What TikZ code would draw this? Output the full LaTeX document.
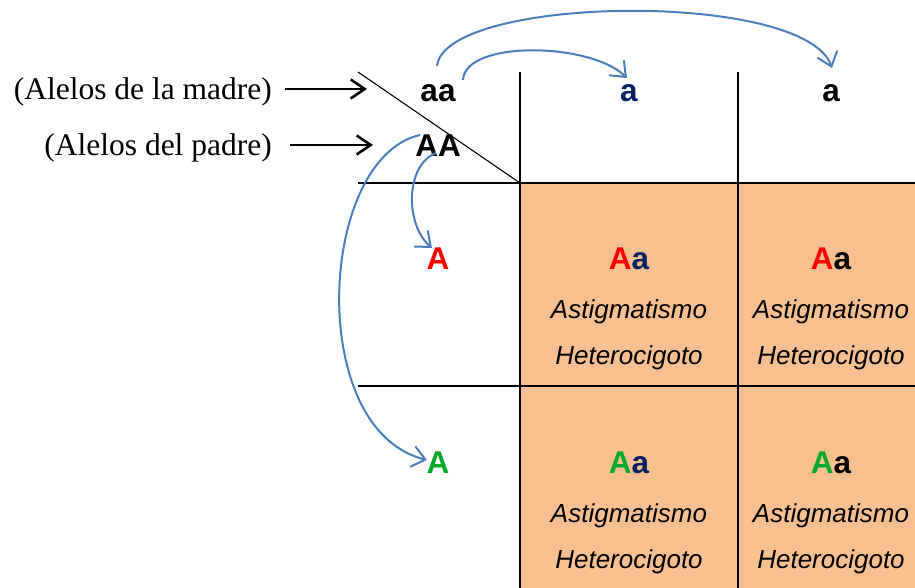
\documentclass[tikz,border=0pt]{standalone}
\usepackage{fontspec}
\setmainfont{Liberation Serif}
\setsansfont{Liberation Sans}
\usetikzlibrary{arrows.meta}
\definecolor{cellfill}{RGB}{248,192,144}
\definecolor{arcblue}{RGB}{74,126,187}
\definecolor{navy}{RGB}{0,32,96}
\definecolor{allelered}{RGB}{255,0,0}
\definecolor{allelegreen}{RGB}{0,170,40}

\begin{document}
\begin{tikzpicture}[x=1pt,y=-1pt,
  allele/.style={font=\sffamily\bfseries\fontsize{31.5}{36}\selectfont, inner sep=0pt, anchor=base},
  desc/.style={font=\sffamily\itshape\fontsize{26}{30}\selectfont, inner sep=0pt, anchor=base},
  parent/.style={font=\fontsize{31.5}{36}\selectfont, inner sep=0pt, anchor=base east},
  gridline/.style={line width=2.2pt},
  pointer/.style={line width=2.6pt, -{Straight Barb[length=14pt,width=19pt,line width=2.6pt]}},
  hop/.style={arcblue, line width=2pt, -{Straight Barb[length=13pt,width=21pt,line width=2pt]}}
]
\useasboundingbox (0,0) rectangle (915,588);

% offspring cells
\fill[cellfill] (520,183) rectangle (915,588);

% Punnett grid
\draw[gridline] (520,72) -- (520,588);
\draw[gridline] (738,72) -- (738,588);
\draw[gridline] (358,183) -- (915,183);
\draw[gridline] (358,386) -- (915,386);
\coordinate (diagTop) at (358,72);
\coordinate (corner) at (520,183);
\draw[line width=1.1pt] (diagTop) -- (corner);

% parent labels
\node[parent] (madre) at (272,100) {(Alelos de la madre)};
\node[parent] (padre) at (272,156) {(Alelos del padre)};
\coordinate (madreTip) at (367,89);
\coordinate (padreTip) at (373,145);
\draw[pointer] (285,89) -- (madreTip);
\draw[pointer] (290,145) -- (padreTip);

% parental genotypes
\node[allele] (aa) at (438,102) {aa};
\node[allele] (AA) at (438,157) {AA};

% gametes
\node[allele, text=navy] (m1) at (629,102) {a};
\node[allele] (m2) at (831,102) {a};
\node[allele, text=allelered] (p1) at (438,269) {A};
\node[allele, text=allelegreen] (p2) at (438,473) {A};

% offspring
\node[allele] (c11) at (629,269) {\textcolor{allelered}{A}\textcolor{navy}{a}};
\node[desc] (c11a) at (629,318) {Astigmatismo};
\node[desc] (c11b) at (629,364) {Heterocigoto};
\node[allele] (c12) at (831,269) {\textcolor{allelered}{A}a};
\node[desc] (c12a) at (831,318) {Astigmatismo};
\node[desc] (c12b) at (831,364) {Heterocigoto};
\node[allele] (c21) at (629,473) {\textcolor{allelegreen}{A}\textcolor{navy}{a}};
\node[desc] (c21a) at (629,522) {Astigmatismo};
\node[desc] (c21b) at (629,568) {Heterocigoto};
\node[allele] (c22) at (831,473) {\textcolor{allelegreen}{A}a};
\node[desc] (c22a) at (831,522) {Astigmatismo};
\node[desc] (c22b) at (831,568) {Heterocigoto};

% segregation arrows
\coordinate (aaR) at (463,80);
\coordinate (aaL) at (437,66);
\coordinate (m1In) at (627,78);
\coordinate (m2In) at (832,68);
\coordinate (AAL) at (420,135);
\coordinate (AAB) at (436,153);
\coordinate (p1In) at (432,248);
\coordinate (p2In) at (427,460);
\draw[hop] (aaR) .. controls (465,40) and (590,42) .. (m1In);
\draw[hop] (aaL) .. controls (445,-5) and (805,-10) .. (m2In);
\draw[hop] (AAB) .. controls (405,165) and (405,225) .. (p1In);
\draw[hop] (AAL) .. controls (318,158) and (305,430) .. (p2In);
\end{tikzpicture}
\end{document}
